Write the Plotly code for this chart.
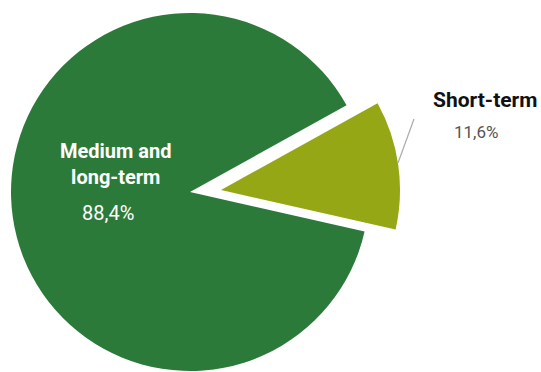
import plotly.graph_objects as go

W, H = 541, 372

categories = ["Short-term", "Medium and long-term"]
values = [11.6, 88.4]
value_labels = ["11,6%", "88,4%"]
colors = ["#95a714", "#2c7a3a"]
transparent = "rgba(0,0,0,0)"

# pie geometry (pixels)
cx, cy, r = 190, 192, 179
pull_dx, pull_dy = 31, -2


def dom(cxp, cyp):
    return dict(x=[(cxp - r) / W, (cxp + r) / W],
                y=[(H - cyp - r) / H, (H - cyp + r) / H])


fig = go.Figure()
# main (medium and long-term) slice
fig.add_trace(go.Pie(
    labels=categories, values=values, sort=False, direction="clockwise",
    rotation=61, textinfo="none", hoverinfo="label+percent",
    marker=dict(colors=[transparent, colors[1]], line=dict(width=0)),
    domain=dom(cx, cy), showlegend=False,
))
# exploded short-term slice
fig.add_trace(go.Pie(
    labels=categories, values=values, sort=False, direction="clockwise",
    rotation=61, textinfo="none", hoverinfo="label+percent",
    marker=dict(colors=[colors[0], transparent], line=dict(width=0)),
    domain=dom(cx + pull_dx, cy + pull_dy), showlegend=False,
))

FONT = "Roboto"


def px(x, y):
    return x / W, (H - y) / H


anns = []
x, y = px(116, 164)
anns.append(dict(x=x, y=y, text="<b>Medium and<br>long-term</b>",
                 font=dict(family=FONT, size=20, color="white")))
x, y = px(108, 213)
anns.append(dict(x=x, y=y, text=value_labels[1],
                 font=dict(family=FONT, size=20, color="white")))
x, y = px(485, 100)
anns.append(dict(x=x, y=y, text="<b>" + categories[0] + "</b>",
                 font=dict(family=FONT, size=21, color="#111111")))
x, y = px(476, 132)
anns.append(dict(x=x, y=y, text=value_labels[0],
                 font=dict(family=FONT, size=17, color="#555555")))
for a in anns:
    a.update(xref="paper", yref="paper", showarrow=False,
             xanchor="center", yanchor="middle")

x0, y0 = px(398, 163)
x1, y1 = px(414, 119)
fig.add_shape(type="line", xref="paper", yref="paper", x0=x0, y0=y0, x1=x1, y1=y1,
              line=dict(color="#aaaaaa", width=1.2))

fig.update_layout(width=W, height=H, margin=dict(l=0, r=0, t=0, b=0),
                  paper_bgcolor="white", plot_bgcolor="white",
                  annotations=anns)

fig.write_html("out.html")
